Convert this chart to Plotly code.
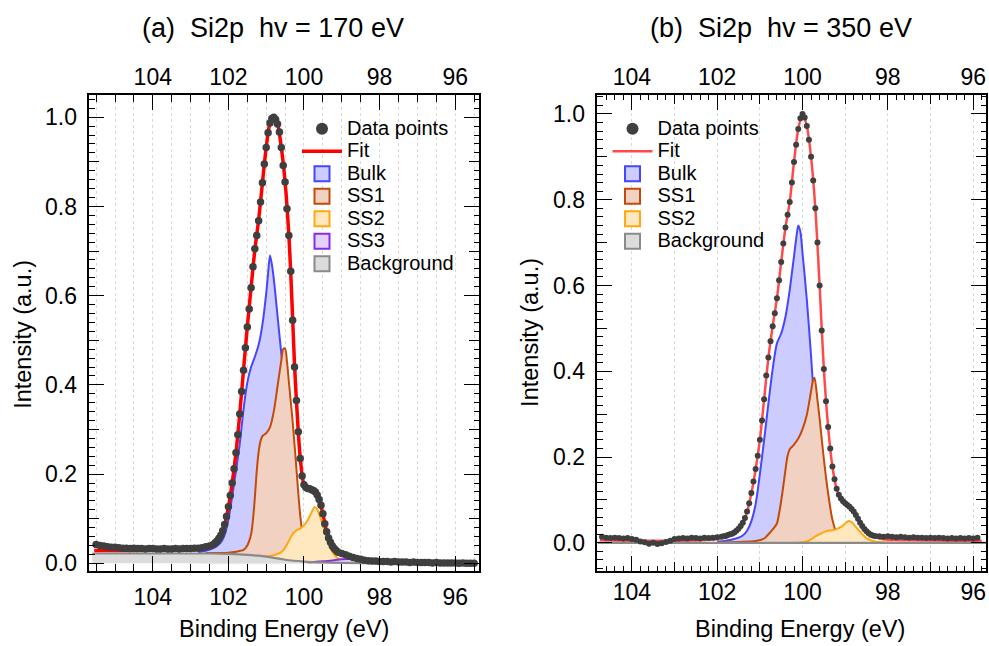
import plotly.graph_objects as go

# ======================= panel (a): Si2p, hv = 170 eV =======================
a_data_be = [105.5, 105.4, 105.3, 105.2, 105.1, 105.0, 104.9, 104.8, 104.7, 104.6,
             104.5, 104.4, 104.3, 104.2, 104.1, 104.0, 103.9, 103.8, 103.7, 103.6,
             103.5, 103.4, 103.3, 103.2, 103.1, 103.0, 102.9, 102.8, 102.7, 102.6,
             102.5, 102.4,
             102.35, 102.30, 102.25, 102.20, 102.15, 102.10, 102.05, 102.00, 101.95, 101.90,
             101.85, 101.80, 101.75, 101.70, 101.65, 101.60, 101.55, 101.50, 101.45, 101.40,
             101.35, 101.30, 101.25, 101.20, 101.15, 101.10, 101.05, 101.00, 100.95, 100.90,
             100.85, 100.80, 100.75, 100.70, 100.65, 100.60, 100.55, 100.50, 100.45, 100.40,
             100.35, 100.30, 100.25, 100.20, 100.15, 100.10, 100.05, 100.00, 99.95, 99.90,
             99.85, 99.80, 99.75, 99.70, 99.65, 99.60, 99.55, 99.50, 99.45, 99.40,
             99.35, 99.30, 99.25, 99.20, 99.15,
             99.1, 99.0, 98.9, 98.8, 98.7, 98.6, 98.5, 98.4, 98.3, 98.2,
             98.1, 98.0, 97.9, 97.8, 97.7, 97.6, 97.5, 97.4, 97.3, 97.2,
             97.1, 97.0, 96.9, 96.8, 96.7, 96.6, 96.5, 96.4, 96.3, 96.2,
             96.1, 96.0, 95.9, 95.8, 95.7, 95.6, 95.5]
a_data_int = [0.042, 0.040, 0.039, 0.037, 0.036, 0.036, 0.035, 0.034, 0.034, 0.033,
              0.034, 0.033, 0.033, 0.032, 0.033, 0.033, 0.032, 0.032, 0.033, 0.032,
              0.032, 0.033, 0.032, 0.033, 0.033, 0.033, 0.034, 0.034, 0.035, 0.037,
              0.039, 0.042,
              0.046, 0.050, 0.056, 0.063, 0.073, 0.087, 0.105, 0.127, 0.152, 0.180,
              0.212, 0.248, 0.288, 0.335, 0.385, 0.433, 0.483, 0.530, 0.570, 0.618,
              0.665, 0.705, 0.735, 0.768, 0.810, 0.853, 0.895, 0.932, 0.965, 0.987,
              0.997, 1.000, 0.995, 0.985, 0.967, 0.932, 0.892, 0.855, 0.795, 0.735,
              0.655, 0.545, 0.440, 0.365, 0.295, 0.235, 0.196, 0.176, 0.170, 0.168,
              0.167, 0.165, 0.163, 0.160, 0.153, 0.143, 0.130, 0.111, 0.089, 0.071,
              0.057, 0.047, 0.039, 0.033, 0.029,
              0.025, 0.022, 0.019, 0.016, 0.013, 0.011, 0.009, 0.007, 0.006, 0.005,
              0.005, 0.004, 0.004, 0.004, 0.003, 0.004, 0.003, 0.003, 0.003, 0.002,
              0.003, 0.002, 0.002, 0.002, 0.002, 0.001, 0.002, 0.001, 0.001, 0.001,
              0.001, 0.001, 0.000, 0.001, 0.000, 0.000, 0.000]

a_fit_be = [105.55, 105.0, 104.5, 104.0, 103.5, 103.0, 102.8, 102.6, 102.5, 102.4,
            102.3, 102.2, 102.1, 102.0, 101.9, 101.8, 101.7, 101.6, 101.5, 101.4,
            101.3, 101.2, 101.1, 101.0, 100.9, 100.8, 100.7, 100.6, 100.5, 100.4,
            100.35, 100.3, 100.25, 100.2, 100.1, 100.0, 99.9, 99.8, 99.7, 99.6,
            99.5, 99.4, 99.3, 99.2, 99.1, 99.0, 98.8, 98.6, 98.4, 98.2,
            98.0, 97.5, 97.0, 96.5, 96.0, 95.45]
a_fit_int = [0.029, 0.029, 0.029, 0.030, 0.030, 0.031, 0.032, 0.035, 0.037, 0.041,
             0.049, 0.062, 0.086, 0.126, 0.180, 0.248, 0.335, 0.433, 0.530, 0.618,
             0.703, 0.770, 0.853, 0.932, 0.987, 1.000, 0.985, 0.932, 0.855, 0.735,
             0.650, 0.548, 0.445, 0.365, 0.237, 0.177, 0.168, 0.165, 0.160, 0.143,
             0.111, 0.071, 0.047, 0.033, 0.025, 0.022, 0.016, 0.011, 0.007, 0.005,
             0.004, 0.003, 0.002, 0.0015, 0.001, 0.000]

a_bulk_be = [102.8, 102.6, 102.4, 102.3, 102.2, 102.1, 102.0, 101.9, 101.8, 101.7,
             101.6, 101.5, 101.4, 101.3, 101.2, 101.1, 101.0, 100.95, 100.9, 100.85,
             100.8, 100.7, 100.6, 100.5, 100.4, 100.3, 100.2, 100.1, 100.0, 99.8,
             99.5, 99.2]
a_bulk_int = [0.025, 0.028, 0.034, 0.039, 0.047, 0.064, 0.098, 0.150, 0.207, 0.268,
              0.345, 0.405, 0.440, 0.463, 0.490, 0.535, 0.605, 0.650, 0.690, 0.670,
              0.638, 0.555, 0.470, 0.400, 0.300, 0.190, 0.110, 0.060, 0.032, 0.015,
              0.007, 0.003]

a_ss1_be = [102.6, 102.0, 101.8, 101.6, 101.5, 101.4, 101.35, 101.3, 101.25, 101.2,
            101.15, 101.1, 101.0, 100.9, 100.8, 100.7, 100.6, 100.55, 100.5, 100.45,
            100.4, 100.3, 100.2, 100.1, 100.0, 99.9, 99.7, 99.5, 99.3]
a_ss1_int = [0.023, 0.024, 0.026, 0.030, 0.040, 0.065, 0.098, 0.148, 0.207, 0.250,
             0.274, 0.285, 0.292, 0.305, 0.340, 0.397, 0.455, 0.480, 0.482, 0.452,
             0.407, 0.318, 0.212, 0.108, 0.045, 0.022, 0.012, 0.007, 0.004]

a_ss2_be = [101.2, 101.0, 100.8, 100.6, 100.5, 100.4, 100.3, 100.2, 100.1, 100.0,
            99.9, 99.8, 99.72, 99.65, 99.6, 99.5, 99.4, 99.3, 99.2, 99.1,
            99.0, 98.8]
a_ss2_int = [0.017, 0.016, 0.018, 0.025, 0.035, 0.050, 0.066, 0.074, 0.078, 0.085,
             0.097, 0.114, 0.126, 0.121, 0.110, 0.085, 0.058, 0.035, 0.019, 0.011,
             0.007, 0.003]

a_ss3_be = [99.9, 99.6, 99.3, 99.0, 98.8, 98.6, 98.4, 98.2, 98.0, 97.8]
a_ss3_int = [0.002, 0.004, 0.006, 0.009, 0.0095, 0.008, 0.005, 0.002, 0.001, 0.000]

a_bg_be = [105.6, 103.0, 102.5, 102.0, 101.5, 101.0, 100.5, 100.0, 99.5, 99.0, 98.0, 95.4]
a_bg_int = [0.022, 0.022, 0.022, 0.021, 0.019, 0.015, 0.008, 0.004, 0.002, 0.001, 0.000, 0.000]

# ======================= panel (b): Si2p, hv = 350 eV =======================
b_data_be = [104.7, 104.6, 104.5, 104.4, 104.3, 104.2, 104.1, 104.0, 103.9, 103.8,
             103.7, 103.6, 103.5, 103.4, 103.3, 103.2, 103.1, 103.0, 102.9, 102.8,
             102.7, 102.6, 102.5, 102.4, 102.3, 102.2, 102.1, 102.0, 101.9,
             101.85, 101.80, 101.75, 101.70, 101.65, 101.60, 101.55, 101.50, 101.45, 101.40,
             101.35, 101.30, 101.25, 101.20, 101.15, 101.10, 101.05, 101.00, 100.95, 100.90,
             100.85, 100.80, 100.75, 100.70, 100.65, 100.60, 100.55, 100.50, 100.45, 100.40,
             100.35, 100.30, 100.25, 100.20, 100.15, 100.10, 100.05, 100.00, 99.95, 99.90,
             99.85, 99.80, 99.75, 99.70, 99.65, 99.60, 99.55, 99.50, 99.45, 99.40,
             99.35, 99.30, 99.25, 99.20, 99.15, 99.10, 99.05, 99.00, 98.95, 98.90,
             98.85, 98.80, 98.75, 98.70, 98.65, 98.60, 98.55, 98.50, 98.45, 98.40,
             98.35,
             98.3, 98.2, 98.1, 98.0, 97.9, 97.8, 97.7, 97.6, 97.5, 97.4,
             97.3, 97.2, 97.1, 97.0, 96.9, 96.8, 96.7, 96.6, 96.5, 96.4,
             96.3, 96.2, 96.1, 96.0, 95.9]
b_data_int = [0.014, 0.012, 0.011, 0.012, 0.011, 0.010, 0.011, 0.009, 0.007, 0.003,
              0.001, -0.002, 0.000, -0.003, -0.001, 0.002, 0.005, 0.009, 0.010, 0.011,
              0.010, 0.012, 0.011, 0.010, 0.012, 0.011, 0.012, 0.013, 0.014,
              0.015, 0.016, 0.018, 0.020, 0.021, 0.024, 0.028, 0.033, 0.039, 0.047,
              0.058, 0.073, 0.092, 0.116, 0.143, 0.172, 0.203, 0.240, 0.285, 0.335,
              0.390, 0.432, 0.470, 0.505, 0.535, 0.570, 0.612, 0.655, 0.698, 0.735,
              0.765, 0.795, 0.840, 0.888, 0.928, 0.965, 0.990, 1.000, 0.992, 0.972,
              0.940, 0.900, 0.845, 0.780, 0.700, 0.600, 0.495, 0.405, 0.330, 0.270,
              0.220, 0.178, 0.148, 0.126, 0.112, 0.103, 0.097, 0.092, 0.088, 0.084,
              0.079, 0.073, 0.065, 0.056, 0.047, 0.039, 0.032, 0.027, 0.022, 0.019,
              0.017,
              0.016, 0.015, 0.014, 0.015, 0.014, 0.013, 0.014, 0.013, 0.012, 0.013,
              0.012, 0.012, 0.011, 0.012, 0.011, 0.012, 0.011, 0.010, 0.011, 0.010,
              0.011, 0.010, 0.011, 0.010, 0.012]

b_fit_be = [104.75, 104.0, 103.0, 102.4, 102.2, 102.0, 101.9, 101.8, 101.7, 101.6,
            101.5, 101.4, 101.3, 101.2, 101.1, 101.0, 100.9, 100.8, 100.7, 100.6,
            100.5, 100.4, 100.3, 100.2, 100.1, 100.0, 99.9, 99.8, 99.7, 99.6,
            99.5, 99.4, 99.3, 99.2, 99.1, 99.0, 98.9, 98.8, 98.7, 98.6,
            98.5, 98.4, 98.3, 98.2, 98.0, 97.5, 96.5, 95.8]
b_fit_int = [0.006, 0.005, 0.005, 0.006, 0.007, 0.009, 0.012, 0.015, 0.019, 0.023,
             0.032, 0.046, 0.072, 0.115, 0.171, 0.240, 0.335, 0.432, 0.505, 0.570,
             0.655, 0.735, 0.795, 0.888, 0.965, 1.000, 0.972, 0.900, 0.780, 0.600,
             0.405, 0.270, 0.178, 0.126, 0.103, 0.092, 0.084, 0.073, 0.056, 0.039,
             0.026, 0.018, 0.013, 0.010, 0.007, 0.006, 0.005, 0.005]

b_bulk_be = [102.0, 101.8, 101.6, 101.5, 101.4, 101.3, 101.2, 101.1, 101.0, 100.9,
             100.8, 100.7, 100.6, 100.5, 100.4, 100.3, 100.2, 100.15, 100.1, 100.05,
             100.0, 99.9, 99.8, 99.7, 99.6, 99.5, 99.4, 99.3, 99.1, 98.8]
b_bulk_int = [0.003, 0.005, 0.009, 0.012, 0.017, 0.028, 0.050, 0.090, 0.160, 0.240,
              0.325, 0.405, 0.465, 0.488, 0.527, 0.590, 0.668, 0.708, 0.740, 0.725,
              0.675, 0.568, 0.435, 0.290, 0.170, 0.090, 0.045, 0.022, 0.008, 0.003]

b_ss1_be = [102.0, 101.5, 101.1, 100.9, 100.8, 100.7, 100.6, 100.55, 100.5, 100.45,
            100.4, 100.35, 100.3, 100.2, 100.1, 100.0, 99.9, 99.8, 99.75, 99.72,
            99.65, 99.6, 99.5, 99.4, 99.3, 99.2, 99.1, 98.9, 98.7]
b_ss1_int = [0.001, 0.002, 0.004, 0.010, 0.020, 0.031, 0.045, 0.068, 0.098, 0.133,
             0.170, 0.203, 0.218, 0.229, 0.243, 0.265, 0.298, 0.354, 0.380, 0.385,
             0.333, 0.290, 0.195, 0.115, 0.054, 0.023, 0.010, 0.004, 0.002]

b_ss2_be = [100.1, 99.9, 99.8, 99.7, 99.6, 99.5, 99.4, 99.3, 99.2, 99.1,
            99.0, 98.92, 98.85, 98.8, 98.7, 98.6, 98.5, 98.4, 98.3, 98.1, 97.9]
b_ss2_int = [0.000, 0.003, 0.008, 0.015, 0.020, 0.025, 0.028, 0.029, 0.032, 0.037,
             0.045, 0.051, 0.048, 0.043, 0.031, 0.020, 0.011, 0.006, 0.003, 0.001, 0.000]

b_bg_be = [104.8, 100.0, 95.7]
b_bg_int = [0.0, 0.0, 0.0]

# tick / axis text
x_title = "Binding Energy (eV)"
y_title = "Intensity (a.u.)"
title_a = "(a)\u00a0\u00a0Si2p\u00a0\u00a0hv = 170 eV"
title_b = "(b)\u00a0\u00a0Si2p\u00a0\u00a0hv = 350 eV"

# ---------------------------------------------------------------------------
FONT = "Liberation Sans, Arial, Helvetica, sans-serif"
C_DATA = "#3f3f3f"
C_BULK, F_BULK = "#4646ff", "#ccccff"
C_SS1, F_SS1 = "#c44a0a", "#f1d1c1"
C_SS2, F_SS2 = "#ffa812", "#ffe8c0"
C_SS3, F_SS3 = "#8a2be2", "#e2d2fb"
C_BG, F_BG = "#8a8a8a", "#dcdcdc"

W, H = 989, 646


def px(x):
    return x / W


def py(y):
    return 1 - y / H


fig = go.Figure()


def comp(x, y, line_c, fill_c, xa, ya, w=2):
    fig.add_trace(go.Scatter(x=x, y=y, mode="lines", line=dict(color=line_c, width=w, shape="spline", smoothing=0.8),
                             fill="tozeroy", fillcolor=fill_c, showlegend=False, hoverinfo="skip",
                             xaxis=xa, yaxis=ya))


def legend_item(name, legend, kind, color, fill=None, width=3, size=12):
    lab = '<span style="font-size:20px">%s</span>' % name
    if kind == "marker":
        fig.add_trace(go.Scatter(x=[None], y=[None], mode="markers", name=lab, legend=legend,
                                 marker=dict(size=size, color=color)))
    elif kind == "line":
        fig.add_trace(go.Scatter(x=[None], y=[None], mode="lines", name=lab, legend=legend,
                                 line=dict(color=color, width=width)))
    else:
        fig.add_trace(go.Scatter(x=[None], y=[None], mode="markers", name=lab, legend=legend,
                                 marker=dict(symbol="square", size=15, color=fill,
                                             line=dict(color=color, width=2))))


# ---- panel a traces
comp(a_bulk_be, a_bulk_int, C_BULK, F_BULK, "x", "y")
comp(a_ss1_be, a_ss1_int, C_SS1, F_SS1, "x", "y")
comp(a_ss2_be, a_ss2_int, C_SS2, F_SS2, "x", "y")
comp(a_ss3_be, a_ss3_int, C_SS3, F_SS3, "x", "y")
comp(a_bg_be, a_bg_int, C_BG, F_BG, "x", "y", w=2.2)
fig.add_trace(go.Scatter(x=a_fit_be, y=a_fit_int, mode="lines", line=dict(color="#ff0000", width=3.5, shape="spline", smoothing=0.8),
                         showlegend=False, hoverinfo="skip", xaxis="x", yaxis="y"))
fig.add_trace(go.Scatter(x=a_data_be, y=a_data_int, mode="markers", marker=dict(size=7.5, color=C_DATA),
                         showlegend=False, xaxis="x", yaxis="y"))

# ---- panel b traces
comp(b_bulk_be, b_bulk_int, C_BULK, F_BULK, "x3", "y3")
comp(b_ss1_be, b_ss1_int, C_SS1, F_SS1, "x3", "y3")
comp(b_ss2_be, b_ss2_int, C_SS2, F_SS2, "x3", "y3")
comp(b_bg_be, b_bg_int, C_BG, F_BG, "x3", "y3", w=2.2)
fig.add_trace(go.Scatter(x=b_fit_be, y=b_fit_int, mode="lines", line=dict(color="#ff4a4a", width=2.5, shape="spline", smoothing=0.8),
                         showlegend=False, hoverinfo="skip", xaxis="x3", yaxis="y3"))
fig.add_trace(go.Scatter(x=b_data_be, y=b_data_int, mode="markers", marker=dict(size=6, color=C_DATA),
                         showlegend=False, xaxis="x3", yaxis="y3"))

# empty traces so that overlay axes get drawn
for xa, ya in [("x2", "y"), ("x", "y2"), ("x4", "y3"), ("x5", "y3"), ("x3", "y4")]:
    fig.add_trace(go.Scatter(x=[], y=[], xaxis=xa, yaxis=ya, showlegend=False, hoverinfo="skip"))

# ---- legends
legend_item("Data points", "legend", "marker", C_DATA)
legend_item("Fit", "legend", "line", "#ff0000", width=3.5)
legend_item("Bulk", "legend", "box", C_BULK, F_BULK)
legend_item("SS1", "legend", "box", C_SS1, F_SS1)
legend_item("SS2", "legend", "box", C_SS2, F_SS2)
legend_item("SS3", "legend", "box", C_SS3, F_SS3)
legend_item("Background", "legend", "box", C_BG, F_BG)

legend_item("Data points", "legend2", "marker", C_DATA)
legend_item("Fit", "legend2", "line", "#ff4a4a", width=2.5)
legend_item("Bulk", "legend2", "box", C_BULK, F_BULK)
legend_item("SS1", "legend2", "box", C_SS1, F_SS1)
legend_item("SS2", "legend2", "box", C_SS2, F_SS2)
legend_item("Background", "legend2", "box", C_BG, F_BG)

# ---- axes
A_X = [px(89.3), px(479)]
B_X = [px(597.3), px(986)]
DOM_Y = [py(576), py(96)]
A_XR = [105.68, 95.37]
B_XR = [104.81, 95.70]
A_YR = [-0.0164, 1.0496]
B_YR = [-0.065, 1.044]

TF = dict(size=23, color="black", family=FONT)
GRID = dict(showgrid=True, gridcolor="#d9d9d9", griddash="dot", gridwidth=1)
common = dict(ticks="inside", tickcolor="black", tickwidth=1.3, zeroline=False, tickfont=TF)

fig.update_layout(
    xaxis=dict(domain=A_X, anchor="y", range=A_XR, dtick=2, tick0=0, ticklen=15, showticklabels=True,
               ticklabelstandoff=5, showline=True, linewidth=1.5, linecolor="black", mirror=True,
               minor=dict(dtick=0.5, tick0=0, ticks="inside", ticklen=7, tickwidth=1.3, tickcolor="black", **GRID),
               **GRID, **common),
    xaxis2=dict(overlaying="x", anchor="y", side="top", range=A_XR, dtick=2, tick0=0, ticklen=15,
                showticklabels=True, ticklabelstandoff=5, showgrid=False, showline=False,
                minor=dict(dtick=0.5, tick0=0, ticks="inside", ticklen=7, tickwidth=1.3, tickcolor="black"),
                **common),
    yaxis=dict(domain=DOM_Y, anchor="x", range=A_YR, dtick=0.2, tick0=0, tickformat=".1f", ticklen=15,
               ticklabelstandoff=6, showline=True, linewidth=1.5, linecolor="black", mirror="ticks", showgrid=False,
               minor=dict(dtick=0.02, tick0=0, ticks="inside", ticklen=5.5, tickwidth=1.3, tickcolor="black"),
               **common),
    yaxis2=dict(overlaying="y", anchor="x", range=A_YR, dtick=0.2, tick0=0.1, ticklen=10, showticklabels=False,
                mirror="ticks", showline=False, showgrid=False, **common),
    xaxis3=dict(domain=B_X, anchor="y3", range=B_XR, dtick=1, tick0=0, ticklen=9, showticklabels=False,
                showline=True, linewidth=1.5, linecolor="black", mirror="ticks",
                minor=dict(dtick=0.2, tick0=0, ticks="inside", ticklen=5, tickwidth=1.3, tickcolor="black"),
                **GRID, **common),
    xaxis4=dict(overlaying="x3", anchor="y3", side="bottom", range=B_XR, dtick=2, tick0=0, ticklen=15,
                showticklabels=True, ticklabelstandoff=5, showgrid=False, showline=False, **common),
    xaxis5=dict(overlaying="x3", anchor="y3", side="top", range=B_XR, dtick=2, tick0=0, ticklen=15,
                showticklabels=True, ticklabelstandoff=5, showgrid=False, showline=False, **common),
    yaxis3=dict(domain=DOM_Y, anchor="x3", range=B_YR, dtick=0.2, tick0=0, tickformat=".1f", ticklen=15,
                ticklabelstandoff=6, showline=True, linewidth=1.5, linecolor="black", mirror="ticks", showgrid=False,
                minor=dict(dtick=0.02, tick0=0, ticks="inside", ticklen=5.5, tickwidth=1.3, tickcolor="black"),
                **common),
    yaxis4=dict(overlaying="y3", anchor="x3", range=B_YR, dtick=0.2, tick0=0.1, ticklen=10, showticklabels=False,
                mirror="ticks", showline=False, showgrid=False, **common),
)

LEG = dict(xanchor="left", yanchor="top", bgcolor="rgba(0,0,0,0)", borderwidth=0,
           font=dict(size=15, family=FONT, color="black"), itemwidth=40, tracegroupgap=0)
fig.update_layout(
    legend=dict(x=px(297), y=py(113.5), **LEG),
    legend2=dict(x=px(607.5), y=py(113.5), **LEG),
)

ann_font = dict(size=23.5, color="black", family=FONT)
title_font = dict(size=27, color="black", family=FONT)
fig.update_layout(annotations=[
    dict(text=title_a, x=px(273), y=py(28), xref="paper", yref="paper", showarrow=False,
         xanchor="center", yanchor="middle", font=title_font),
    dict(text=title_b, x=px(781), y=py(28), xref="paper", yref="paper", showarrow=False,
         xanchor="center", yanchor="middle", font=title_font),
    dict(text=x_title, x=px(284), y=py(635), xref="paper", yref="paper", showarrow=False,
         xanchor="center", yanchor="middle", font=ann_font),
    dict(text=x_title, x=px(800), y=py(635), xref="paper", yref="paper", showarrow=False,
         xanchor="center", yanchor="middle", font=ann_font),
    dict(text=y_title, x=px(23), y=py(338), xref="paper", yref="paper", showarrow=False, textangle=-90,
         xanchor="center", yanchor="middle", font=ann_font),
    dict(text=y_title, x=px(530), y=py(336), xref="paper", yref="paper", showarrow=False, textangle=-90,
         xanchor="center", yanchor="middle", font=ann_font),
])

fig.update_layout(width=W, height=H, margin=dict(l=0, r=0, t=0, b=0), paper_bgcolor="white",
                  plot_bgcolor="white", font=dict(family=FONT, color="black"), hovermode=False)

fig.write_html("out.html", config={"displayModeBar": False},
               post_script="document.body.style.margin='0';document.body.style.overflow='hidden';")
